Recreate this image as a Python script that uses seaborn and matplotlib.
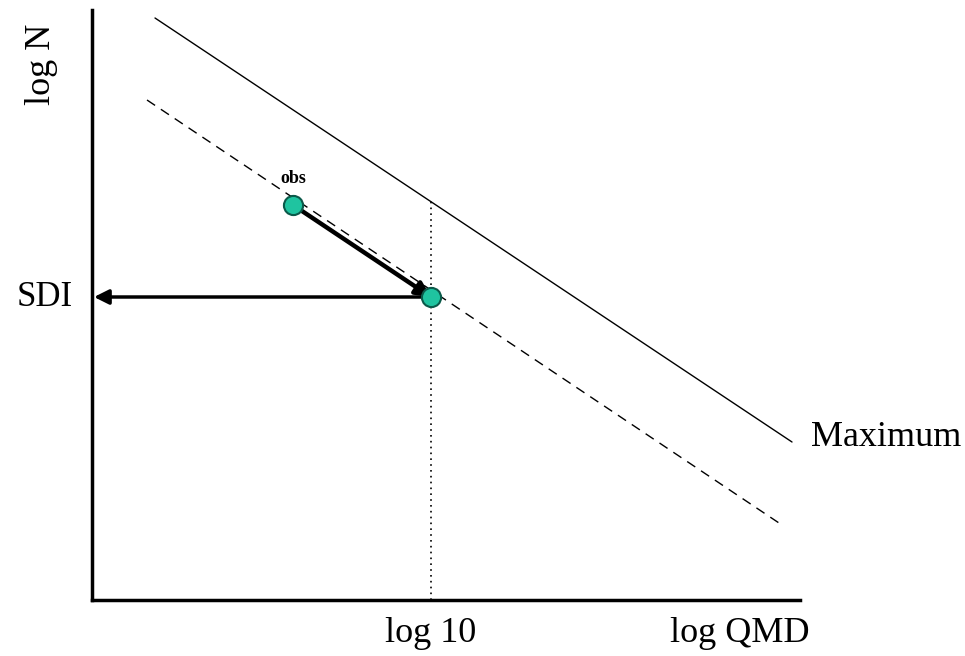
import numpy as np
import pandas as pd
import seaborn as sns
import matplotlib.pyplot as plt

# line ends (arbitrary log units)
max_x = [63, 700]
max_y = [582, 158]
cur_x = [55, 690]
cur_y = [500, 75]
obs_x = [201]
obs_y = [395]
ref_x = [339]
ref_y = [303]
sdi_x = 0
top_of_ref = 399

sns.set_style("white")
plt.rcParams['font.family'] = ['Liberation Serif', 'DejaVu Serif']
plt.rcParams['text.color'] = 'black'

fig = plt.figure(figsize=(9.65, 6.56), dpi=100)
ax = fig.add_axes([92/965, 56/656, 708/965, 590/656])

lines = pd.DataFrame({"x": max_x + cur_x, "y": max_y + cur_y,
                      "line": ["max", "max", "cur", "cur"]})
sns.lineplot(data=lines[lines.line == "max"], x="x", y="y", color="black", lw=1, ax=ax)
sns.lineplot(data=lines[lines.line == "cur"], x="x", y="y", color="black", lw=1,
             linestyle=(0, (7, 5)), ax=ax)

ax.plot([ref_x[0], ref_x[0]], [0, top_of_ref], color="black", lw=1.2, linestyle=(0, (1, 2.5)))

# arrows: obs -> ref point, ref point -> SDI axis
ax.annotate("", xy=(ref_x[0], ref_y[0]), xytext=(obs_x[0], obs_y[0]),
            arrowprops=dict(arrowstyle="-|>", color="black", lw=3.2, mutation_scale=22,
                            shrinkA=0, shrinkB=0))
ax.annotate("", xy=(sdi_x + 2, ref_y[0]), xytext=(ref_x[0], ref_y[0]),
            arrowprops=dict(arrowstyle="-|>", color="black", lw=2.5, mutation_scale=22,
                            shrinkA=0, shrinkB=0))

pts = pd.DataFrame({"x": obs_x + ref_x, "y": obs_y + ref_y})
sns.scatterplot(data=pts, x="x", y="y", s=190, color="#1fc4a0", edgecolor="#0b5a4a",
                linewidth=1.5, zorder=5, ax=ax)

ax.set_xlim(0, 708)
ax.set_ylim(0, 590)
ax.set_xticks([])
ax.set_yticks([])
ax.set_xlabel("")
ax.set_ylabel("")
for s in ["top", "right"]:
    ax.spines[s].set_visible(False)
for s in ["left", "bottom"]:
    ax.spines[s].set_linewidth(2.5)
    ax.spines[s].set_color("black")

ax.text(obs_x[0], obs_y[0] + 18, "obs", ha="center", va="bottom", fontsize=13, fontweight="bold")
fig.text(45/965, 1 - 297/656, "SDI", ha="center", va="center", fontsize=25)
fig.text(886/965, 1 - 438/656, "Maximum", ha="center", va="center", fontsize=26)
fig.text(42/965, 1 - 64/656, "log N", ha="center", va="center", fontsize=26, rotation=90)
fig.text(431/965, 1 - 633/656, "log 10", ha="center", va="center", fontsize=26)
fig.text(740/965, 1 - 633/656, "log QMD", ha="center", va="center", fontsize=26)

fig.savefig("out.png", dpi=100)
